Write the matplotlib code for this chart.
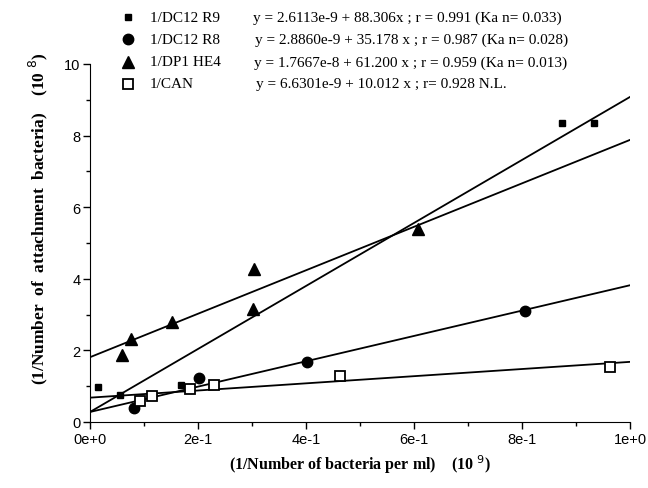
# Lineweaver-Burk style plot: 1/attached bacteria vs 1/bacteria per ml

import numpy as np
import matplotlib.pyplot as plt
from matplotlib.ticker import MultipleLocator, FixedLocator, FixedFormatter

# data (x in 10^9 units, y in 10^8 units)
r9_x = [0.014, 0.056, 0.169, 0.874, 0.933]
r9_y = [0.99, 0.76, 1.02, 8.36, 8.36]

r8_x = [0.081, 0.202, 0.402, 0.806]
r8_y = [0.39, 1.24, 1.68, 3.10]

he4_x = [0.060, 0.075, 0.152, 0.304, 0.302, 0.608]
he4_y = [1.88, 2.31, 2.79, 4.26, 3.15, 5.40]

can_x = [0.093, 0.114, 0.185, 0.230, 0.463, 0.963]
can_y = [0.60, 0.73, 0.91, 1.04, 1.29, 1.54]

# fitted lines (intercept, slope) in plot units
r9_fit = (0.28, 8.80)
r8_fit = (0.28, 3.54)
he4_fit = (1.81, 6.07)
can_fit = (0.68, 1.00)

labels = ['1/DC12 R9', '1/DC12 R8', '1/DP1 HE4', '1/CAN']
equations = ['y = 2.6113e-9 + 88.306x ; r = 0.991 (Ka n= 0.033)',
             'y = 2.8860e-9 + 35.178 x ; r = 0.987 (Ka n= 0.028)',
             'y = 1.7667e-8 + 61.200 x ; r = 0.959 (Ka n= 0.013)',
             'y = 6.6301e-9 + 10.012 x ; r= 0.928 N.L.']

xticks = [0, 0.2, 0.4, 0.6, 0.8, 1.0]
xticklabels = ['0e+0', '2e-1', '4e-1', '6e-1', '8e-1', '1e+0']

fig = plt.figure(figsize = (6.48, 4.89), dpi = 100)
ax = fig.add_axes([90/648, 66/489, 540/648, 358/489])

xx = np.array([0, 1.0])
for b, m in [r9_fit, r8_fit, he4_fit, can_fit]:
    ax.plot(xx, b + m * xx, color = 'k', lw = 1.3, zorder = 2)

ax.plot(r9_x, r9_y, 's', color = 'k', ms = 5, zorder = 3, clip_on = False)
ax.plot(r8_x, r8_y, 'o', color = 'k', ms = 7.5, zorder = 3, clip_on = False)
ax.plot(he4_x, he4_y, '^', color = 'k', ms = 8, zorder = 3, clip_on = False)
ax.plot(can_x, can_y, 's', mfc = 'white', mec = 'k', mew = 1.3, ms = 7, zorder = 3, clip_on = False)

ax.set_xlim(0, 1)
ax.set_ylim(0, 10)
ax.spines['top'].set_visible(False)
ax.spines['right'].set_visible(False)
ax.xaxis.set_major_locator(FixedLocator(xticks))
ax.xaxis.set_major_formatter(FixedFormatter(xticklabels))
ax.xaxis.set_minor_locator(MultipleLocator(0.1))
ax.yaxis.set_major_locator(MultipleLocator(2))
ax.yaxis.set_minor_locator(MultipleLocator(1))
ax.tick_params(which = 'major', length = 5, width = 1, labelsize = 10.5, pad = 2)
ax.tick_params(which = 'minor', length = 3, width = 1)
for lab in ax.get_xticklabels() + ax.get_yticklabels():
    lab.set_family('Liberation Sans')

ax.set_xlabel('(1/Number of bacteria per ml)    (10 $^{9}$)', family = 'Liberation Serif',
              fontweight = 'bold', fontsize = 11.5, va = 'center')
ax.xaxis.set_label_coords(0.5, -0.115)
ax.set_ylabel('(1/Number  of  attachment  bacteria)    (10 $^{8}$)', family = 'Liberation Serif',
              fontweight = 'bold', fontsize = 12.5, va = 'center')
ax.yaxis.set_label_coords(-0.095, 0.57)

# legend and equations at the top
rows = [18, 40, 63, 85]
styles = [dict(marker = 's', color = 'k', ms = 5),
          dict(marker = 'o', color = 'k', ms = 7.5),
          dict(marker = '^', color = 'k', ms = 8),
          dict(marker = 's', mfc = 'white', mec = 'k', mew = 1.3, ms = 7)]
eq_x = [253, 255, 254, 256]
for i in range(4):
    yy = 1 - rows[i] / 489
    fig.add_artist(plt.Line2D([128/648], [yy], linestyle = 'none', transform = fig.transFigure, **styles[i]))
    fig.text(150/648, yy, labels[i], family = 'Liberation Serif', fontsize = 11, va = 'center')
    fig.text(eq_x[i]/648, yy, equations[i], family = 'Liberation Serif', fontsize = 11, va = 'center')

fig.savefig('out.png')
